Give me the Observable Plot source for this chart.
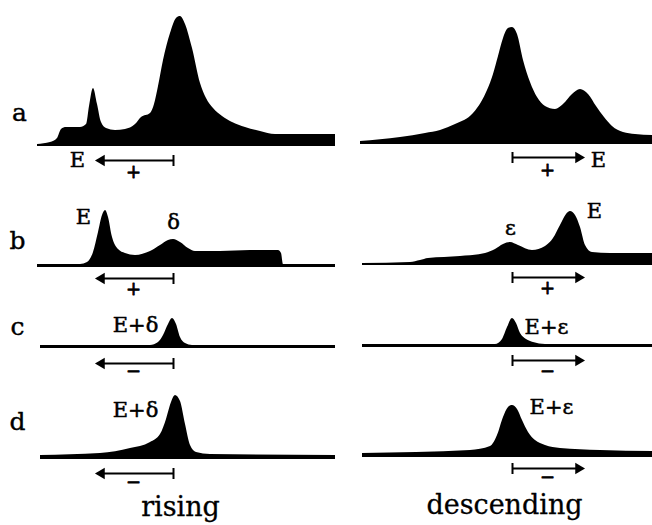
<!DOCTYPE html>
<html>
<head>
<meta charset="utf-8">
<script src="https://cdn.jsdelivr.net/npm/d3@7"></script>
<script src="https://cdn.jsdelivr.net/npm/@observablehq/plot@0.6"></script>
<style>
  html, body { margin: 0; padding: 0; background: #fff; }
  #chart { width: 652px; height: 525px; }
</style>
</head>
<body>
<div id="chart"></div>
<script>
// ---- data: densitometer profiles, [position, height above baseline] ----
const rowNames = ["a", "b", "c", "d"];
const columns = ["rising", "descending"];
const risingBase = [146, 267, 348, 459];
const descendingBase = [144, 265, 347, 457];

const risingA = [[37,2],[50,4],[57,8],[61,17],[66,19],[80,19],[86,22],[89,40],[93,58],[97,42],[101,24],[106,18],[115,16],[125,17],[135,22],[141,29],[150,33],[154,42],[158,60],[163,86],[170,113],[176,128],[180,130],[185,122],[192,98],[200,63],[206,48],[213,38],[222,30],[232,24],[245,19],[260,15],[275,12],[300,12],[335,12]];
const descendingA = [[360,3],[400,7],[425,11],[440,14],[455,20],[473,31],[481,42],[487,54],[493,70],[498,88],[503,106],[508,116],[512,117],[517,110],[523,84],[530,62],[537,47],[545,38],[555,35],[563,40],[572,50],[580,55],[588,50],[596,38],[604,27],[612,18],[623,12],[635,10],[652,9]];
const risingB = [[37,3],[80,3],[87,5],[93,15],[98,35],[102,52],[105,57],[108,50],[112,30],[118,18],[125,14],[135,12],[150,16],[160,22],[168,27],[173,28],[180,25],[188,19],[195,16],[220,16],[250,17],[278,17],[281,14],[283,3],[335,3]];
const descendingB = [[362,2],[410,3],[420,5],[428,7],[460,9],[485,12],[495,16],[503,21],[510,23],[518,20],[532,15],[545,19],[553,27],[560,40],[566,51],[570,54],[575,50],[580,38],[585,20],[592,13],[610,12],[652,12]];
const risingC = [[40,3],[150,3],[158,6],[163,13],[168,24],[172,30],[176,24],[180,11],[185,5],[192,3],[335,3]];
const descendingC = [[362,3],[495,3],[502,8],[507,20],[512,29],[516,24],[520,14],[526,8],[533,5],[545,3],[652,3]];
const risingD = [[40,4],[100,6],[130,11],[150,17],[160,25],[166,40],[171,57],[175,64],[180,58],[185,35],[190,14],[196,7],[210,5],[335,4]];
const descendingD = [[362,4],[470,7],[490,11],[497,22],[503,40],[508,50],[512,52],[517,48],[522,37],[528,25],[535,17],[545,12],[560,9],[600,7],[652,6]];

// migration arrows: start (origin tick) and end position
const arrowStart = {rising: 173, descending: 512};
const arrowEnd = {rising: 97, descending: 582};
const risingArrowY = [160, 278, 363, 473];
const descendingArrowY = [157, 277, 360, 468];
const charges = ["+", "+", "−", "−"];
const risingSignY = [172, 289, 371, 482];
const descendingSignY = [170, 288, 371, 477];

// peak labels
const peakLabels = [
  {text: "E", x: 77, y: 160},
  {text: "E", x: 598, y: 160},
  {text: "E", x: 83, y: 217},
  {text: "δ", x: 173, y: 222},
  {text: "ε", x: 510, y: 228},
  {text: "E", x: 594, y: 211},
  {text: "E+δ", x: 135, y: 325},
  {text: "E+ε", x: 546, y: 327},
  {text: "E+δ", x: 135, y: 410},
  {text: "E+ε", x: 551, y: 407}
];
const rowLabelPos = [[19, 112], [17, 240], [17, 326], [17, 421]];
const columnTitlePos = [[180, 507], [504, 505]];

// ---- build tables ----
const profiles = {
  rising: [risingA, risingB, risingC, risingD],
  descending: [descendingA, descendingB, descendingC, descendingD]
};
const bases = {rising: risingBase, descending: descendingBase};
const areaData = [];
for (const col of columns) {
  profiles[col].forEach((pts, i) => {
    const base = bases[col][i];
    for (const [x, h] of pts) areaData.push({panel: col + rowNames[i], x, y1: base, y2: base - h});
  });
}
const arrowData = [];
columns.forEach(col => {
  const ys = col === "rising" ? risingArrowY : descendingArrowY;
  const sy = col === "rising" ? risingSignY : descendingSignY;
  ys.forEach((y, i) => arrowData.push({
    x1: arrowStart[col], x2: arrowEnd[col], y,
    dir: col === "rising" ? -1 : 1,
    sign: charges[i], sx: (arrowStart[col] + arrowEnd[col]) / 2 - (col === "rising" ? 2 : 0), sy: sy[i]
  }));
});
const rowLabels = rowNames.map((t, i) => ({text: t, x: rowLabelPos[i][0], y: rowLabelPos[i][1]}));
const titles = columns.map((t, i) => ({text: t, x: columnTitlePos[i][0], y: columnTitlePos[i][1]}));

const font = "'DejaVu Serif', serif";

const chart = Plot.plot({
  width: 652,
  height: 525,
  margin: 0,
  x: {domain: [0, 652], axis: null},
  y: {domain: [0, 525], reverse: true, axis: null},
  style: {background: "#fff"},
  marks: [
    Plot.areaY(areaData, {x: "x", y1: "y1", y2: "y2", z: "panel", fill: "#000", curve: "monotone-x"}),
    Plot.link(arrowData, {x1: "x1", x2: d => d.x2 - d.dir * 6, y1: "y", y2: "y", stroke: "#000", strokeWidth: 2}),
    Plot.dot(arrowData, {x: d => d.x2 - d.dir * 4, y: "y", symbol: "triangle", r: 4.2, fill: "#000", stroke: "none", rotate: d => d.dir * 90}),
    Plot.ruleX(arrowData, {x: "x1", y1: d => d.y - 5, y2: d => d.y + 6, stroke: "#000", strokeWidth: 2}),
    Plot.text(arrowData, {x: "sx", y: "sy", text: "sign", fontSize: 18, fontFamily: font, fill: "#000", stroke: "#000", strokeWidth: 0.8}),
    Plot.text(peakLabels, {x: "x", y: "y", text: "text", fontSize: 21, fontFamily: font, fill: "#000", stroke: "#000", strokeWidth: 0.5}),
    Plot.text(rowLabels, {x: "x", y: "y", text: "text", fontSize: 25, fontFamily: font, fill: "#000", stroke: "#000", strokeWidth: 0.4}),
    Plot.text(titles, {x: "x", y: "y", text: "text", fontSize: 27, fontFamily: font, fill: "#000", stroke: "#000", strokeWidth: 0.3})
  ]
});
document.getElementById("chart").appendChild(chart);
</script>
</body>
</html>
